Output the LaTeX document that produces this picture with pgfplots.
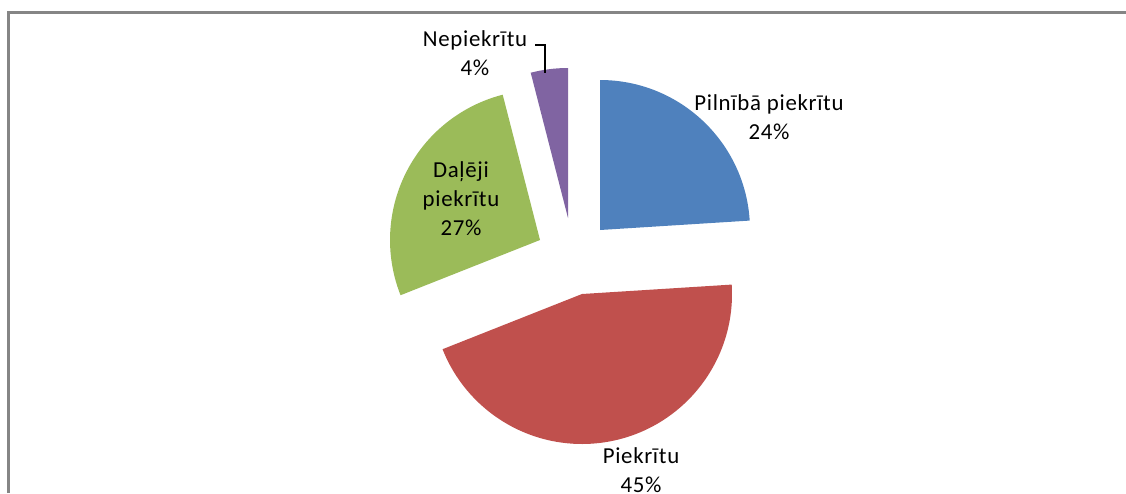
\documentclass[border=0pt]{standalone}
\usepackage{pgfplots}
\pgfplotsset{compat=1.18}
\usepackage{pgfplotstable}
\usepackage{fontspec}
\setmainfont{Carlito}[LetterSpace=3]

\definecolor{pie0}{HTML}{4F81BD}
\definecolor{pie1}{HTML}{C0504D}
\definecolor{pie2}{HTML}{9BBB59}
\definecolor{pie3}{HTML}{8064A2}
\definecolor{framegray}{HTML}{858585}

% share in percent, apex of each (exploded) slice in pixel units
\pgfplotstableread{
value apx apy
24 600 230
45 582 294
27 540 240
4  568 218
}\piedata

\begin{document}
\begin{tikzpicture}
% slice angles, Excel style: start at 12 o'clock, go clockwise
\def\cum{0}%
\pgfplotsforeachungrouped \i in {0,1,2,3}{%
  \pgfplotstablegetelem{\i}{value}\of\piedata\let\v\pgfplotsretval
  \pgfmathsetmacro\sa{90-3.6*\cum}%
  \pgfmathsetmacro\cum{\cum+\v}%
  \pgfmathsetmacro\ea{90-3.6*\cum}%
  \expandafter\xdef\csname sa\i\endcsname{\sa}%
  \expandafter\xdef\csname ea\i\endcsname{\ea}%
  \pgfplotstablegetelem{\i}{apx}\of\piedata
  \expandafter\xdef\csname px\i\endcsname{\pgfplotsretval}%
  \pgfplotstablegetelem{\i}{apy}\of\piedata
  \expandafter\xdef\csname py\i\endcsname{\pgfplotsretval}%
}%
\begin{axis}[
    width=11.26cm, height=4.93cm,
    scale only axis,
    xmin=0, xmax=1126,
    ymin=0, ymax=493,
    y dir=reverse,
    hide axis,
    clip=false,
]
\def\rad{1.5cm}% 150 px
\pgfplotsinvokeforeach{0,1,2,3}{%
  \fill[pie#1] (axis cs:\csname px#1\endcsname,\csname py#1\endcsname)
    -- ++(\csname sa#1\endcsname:\rad)
    arc[start angle=\csname sa#1\endcsname, end angle=\csname ea#1\endcsname, radius=\rad]
    -- cycle;
}

% frame (only top and left edges are inside the picture)
\draw[framegray, line width=0.74pt] (axis cs:8.7,493) -- (axis cs:8.7,12.8) -- (axis cs:1126,12.8);

% data labels
\tikzset{lbl/.style={align=center, inner sep=0pt,
    font=\fontsize{6.5}{8.25}\selectfont}}
\node[lbl] at (axis cs:769,117) {Pilnībā piekrītu\\24\%};
\node[lbl] at (axis cs:641,470) {Piekrītu\\45\%};
\node[lbl] at (axis cs:461,199) {Daļēji\\piekrītu\\27\%};
\node[lbl] at (axis cs:475,53) {Nepiekrītu\\4\%};
\draw[black, line width=0.55pt] (axis cs:535,45) -- (axis cs:545,45) -- (axis cs:545,73);
\end{axis}
\pgfresetboundingbox
\useasboundingbox (current axis.south west) rectangle (current axis.north east);
\end{tikzpicture}
\end{document}
